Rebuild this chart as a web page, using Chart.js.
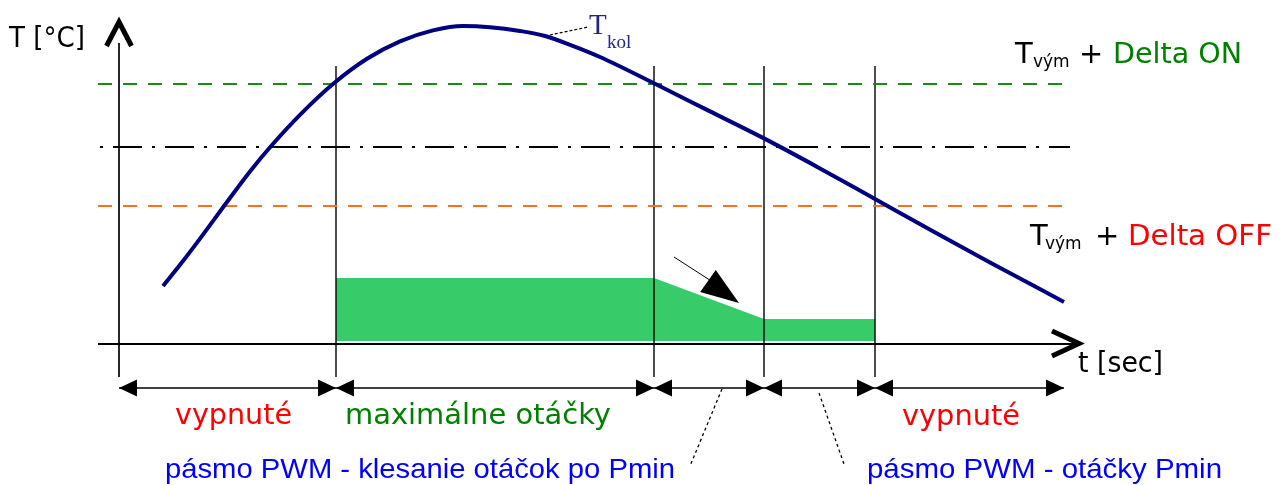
<!DOCTYPE html>
<html>
<head>
<meta charset="utf-8">
<script src="https://cdn.jsdelivr.net/npm/chart.js@4.4.1/dist/chart.umd.min.js"></script>
<style>
  html, body { margin: 0; padding: 0; background: #fff; }
  #wrap { width: 1281px; height: 485px; }
</style>
</head>
<body>
<div id="wrap"><canvas id="diagram" width="1281" height="485"></canvas></div>
<script>
// collector temperature over time (schematic: t in s, T in °C)
const curveTime = [4.4, 6.4, 8.4, 10.5, 13.1, 15.3, 18.1, 21.4, 24.8, 28.1, 31.4, 34.4, 37.1, 40.1, 42.6, 45.3, 48.1, 53.4, 58.9, 64.5, 70.1, 75.6, 81.3, 87.1, 94.5];
const curveTemp = [14.5, 20.75, 27.35, 34.5, 43.15, 49.75, 57.3, 65, 71.3, 75.65, 78.4, 79.5, 79.2, 78.25, 77, 74.6, 71.75, 65.3, 58.4, 51.4, 43.9, 36.25, 28.3, 20.4, 10.5];

// phase boundaries on the time axis
const phaseBounds = [0, 21.7, 53.5, 64.5, 75.6];
const timeEnd = 94.5;

// threshold levels
const levelOn = 65;      // T_vym + Delta ON
const levelMid = 49.25;  // T_vym
const levelOff = 34.5;   // T_vym + Delta OFF

// fan speed (green area)
const speedTime = [21.7, 53.5, 64.5, 75.6];
const speedLevel = [16.5, 16.5, 6.25, 6.25];
const speedBase = 0.75;

const phaseLabels = ['vypnuté', 'maximálne otáčky', 'vypnuté'];
const pwmLabels = ['pásmo PWM - klesanie otáčok po Pmin', 'pásmo PWM - otáčky Pmin'];

const DV = '"DejaVu Sans", Verdana, sans-serif';
const AR = '"Liberation Sans", Arial, sans-serif';
const TM = '"Liberation Serif", "Times New Roman", serif';

function seg(a, b, color, width, dash) {
    return {
        type: 'line',
        data: [{ x: a[0], y: a[1] }, { x: b[0], y: b[1] }],
        borderColor: color,
        borderWidth: width,
        borderDash: dash || [],
        pointRadius: 0,
        fill: false,
        order: 5
    };
}

const datasets = [];

// curve on top
datasets.push({
    type: 'line',
    data: curveTime.map((t, i) => ({ x: t, y: curveTemp[i] })),
    borderColor: '#000080',
    borderWidth: 4,
    cubicInterpolationMode: 'monotone',
    pointRadius: 0,
    fill: false,
    order: 0
});

// green area
datasets.push({
    type: 'line',
    data: speedTime.map((t, i) => ({ x: t, y: speedLevel[i] })),
    borderWidth: 0,
    borderColor: 'rgba(0,0,0,0)',
    backgroundColor: '#37cb6a',
    pointRadius: 0,
    fill: { value: speedBase },
    order: 10
});

// threshold lines
datasets.push(seg([-2.1, levelOn], [95.1, levelOn], '#1a8a1a', 2, [14, 11]));
datasets.push(seg([-1.9, levelMid], [95.1, levelMid], '#000000', 2, [3, 10, 29, 10]));
datasets.push(seg([-2.1, levelOff], [95.1, levelOff], '#ff6f1e', 2, [14, 11]));

// axes and phase boundaries
datasets.push(seg([0, -8.25], [0, 75.25], '#000000', 1.7));
phaseBounds.slice(1).forEach(b => datasets.push(seg([b, -8.25], [b, 69.5], '#000000', 1.4)));
datasets.push(seg([-2.1, 0], [95.8, 0], '#000000', 2));

// axis chevrons
datasets.push({
    type: 'line',
    data: [{ x: -1.25, y: 74.5 }, { x: 0, y: 80.5 }, { x: 1.25, y: 74.5 }],
    borderColor: '#000', borderWidth: 5, borderJoinStyle: 'miter',
    pointRadius: 0, fill: false, order: 5
});
datasets.push({
    type: 'line',
    data: [{ x: 93.3, y: 3.25 }, { x: 96, y: 0.1 }, { x: 93.3, y: -3 }],
    borderColor: '#000', borderWidth: 5, borderJoinStyle: 'miter',
    pointRadius: 0, fill: false, order: 5
});

// dimension line
datasets.push(seg([0, -11], [timeEnd, -11], '#404040', 2));

// leaders and slope arrow shaft
datasets.push(seg([60.3, -11.25], [57.1, -30.5], '#000', 1.3, [3, 3]));
datasets.push(seg([70, -12.25], [72.5, -30], '#000', 1.3, [3, 3]));
datasets.push(seg([42.6, 77], [46.9, 79.25], '#000', 1.2, [3, 2]));
datasets.push(seg([55.5, 21.75], [60, 14.5], '#000', 1));

function arrowHead(ctx, tip, from, len, half) {
    const a = Math.atan2(tip[1] - from[1], tip[0] - from[0]);
    const bx = tip[0] - len * Math.cos(a), by = tip[1] - len * Math.sin(a);
    ctx.beginPath();
    ctx.moveTo(tip[0], tip[1]);
    ctx.lineTo(bx + half * Math.sin(a), by - half * Math.cos(a));
    ctx.lineTo(bx - half * Math.sin(a), by + half * Math.cos(a));
    ctx.closePath();
    ctx.fill();
}

function fitText(ctx, text, x0, x1, y, font, color) {
    ctx.font = font;
    ctx.fillStyle = color;
    const w = ctx.measureText(text).width;
    ctx.save();
    ctx.translate(x0, y);
    ctx.scale((x1 - x0) / w, 1);
    ctx.fillText(text, 0, 0);
    ctx.restore();
}

function plainText(ctx, text, x, y, font, color) {
    ctx.font = font;
    ctx.fillStyle = color;
    ctx.fillText(text, x, y);
}

const overlay = {
    id: 'overlay',
    afterDatasetsDraw(chart) {
        const ctx = chart.ctx;
        const sx = chart.scales.x, sy = chart.scales.y;
        const P = (t, T) => [sx.getPixelForValue(t), sy.getPixelForValue(T)];
        ctx.save();
        ctx.textBaseline = 'alphabetic';
        ctx.textAlign = 'left';

        // dimension arrowheads
        ctx.fillStyle = '#000';
        phaseBounds.forEach((b, i) => {
            const tip = P(b, -11);
            arrowHead(ctx, tip, [tip[0] + 10, tip[1]], 18, 8.5);
            if (i > 0) arrowHead(ctx, tip, [tip[0] - 10, tip[1]], 18, 8.5);
        });
        const end = P(timeEnd, -11);
        arrowHead(ctx, end, [end[0] - 10, end[1]], 18, 8.5);

        // slope arrow head
        arrowHead(ctx, P(62, 10.25), P(55.5, 21.75), 38, 13.5);

        // axis titles
        let p = P(-11, 74.25);
        fitText(ctx, 'T [°C]', p[0], P(-3.4, 0)[0], p[1], '28px ' + DV, '#000');
        p = P(95.9, -7);
        fitText(ctx, 't [sec]', p[0], P(104.4, 0)[0], p[1], '28px ' + DV, '#000');

        // curve label
        p = P(47, 77.5);
        plainText(ctx, 'T', p[0], p[1], '29px ' + TM, '#22228a');
        p = P(48.8, 74);
        plainText(ctx, 'kol', p[0], p[1], '19px ' + TM, '#22228a');

        // threshold labels
        const thr = [
            { T: 70.25, x: [89.6, 91.4, 96, 99.4, 112.3], tail: 'Delta ON', color: '#008000' },
            { T: 24.75, x: [91.1, 92.6, 97.6, 100.9, 115.3], tail: 'Delta OFF', color: '#ff0000' }
        ];
        thr.forEach(o => {
            const y = P(0, o.T)[1];
            plainText(ctx, 'T', P(o.x[0], 0)[0], y, '29px ' + DV, '#000');
            plainText(ctx, 'vým', P(o.x[1], 0)[0], y + 4, '17px ' + DV, '#000');
            plainText(ctx, '+', P(o.x[2], 0)[0], y, '29px ' + DV, '#000');
            fitText(ctx, o.tail, P(o.x[3], 0)[0], P(o.x[4], 0)[0], y, '29px ' + DV, o.color);
        });

        // phase labels
        const yPh = P(0, -20)[1];
        fitText(ctx, phaseLabels[0], P(5.6, 0)[0], P(17.3, 0)[0], yPh, '29px ' + DV, '#ff0000');
        fitText(ctx, phaseLabels[1], P(22.6, 0)[0], P(49.2, 0)[0], yPh, '29px ' + DV, '#008000');
        fitText(ctx, phaseLabels[2], P(78.3, 0)[0], P(90.1, 0)[0], P(0, -20.25)[1], '29px ' + DV, '#ff0000');

        const yPwm = P(0, -33.5)[1];
        fitText(ctx, pwmLabels[0], P(4.6, 0)[0], P(55.6, 0)[0], yPwm, '28px ' + AR, '#0000ff');
        fitText(ctx, pwmLabels[1], P(74.8, 0)[0], P(110.3, 0)[0], yPwm, '28px ' + AR, '#0000ff');

        ctx.restore();
    }
};

new Chart(document.getElementById('diagram').getContext('2d'), {
    type: 'scatter',
    data: { datasets: datasets },
    options: {
        responsive: false,
        animation: false,
        devicePixelRatio: 1,
        layout: { padding: 0 },
        plugins: { legend: { display: false }, tooltip: { enabled: false } },
        scales: {
            x: { type: 'linear', display: false, min: -11.9, max: 116.2 },
            y: { type: 'linear', display: false, min: -35.25, max: 86 }
        }
    },
    plugins: [overlay]
});
</script>
</body>
</html>
